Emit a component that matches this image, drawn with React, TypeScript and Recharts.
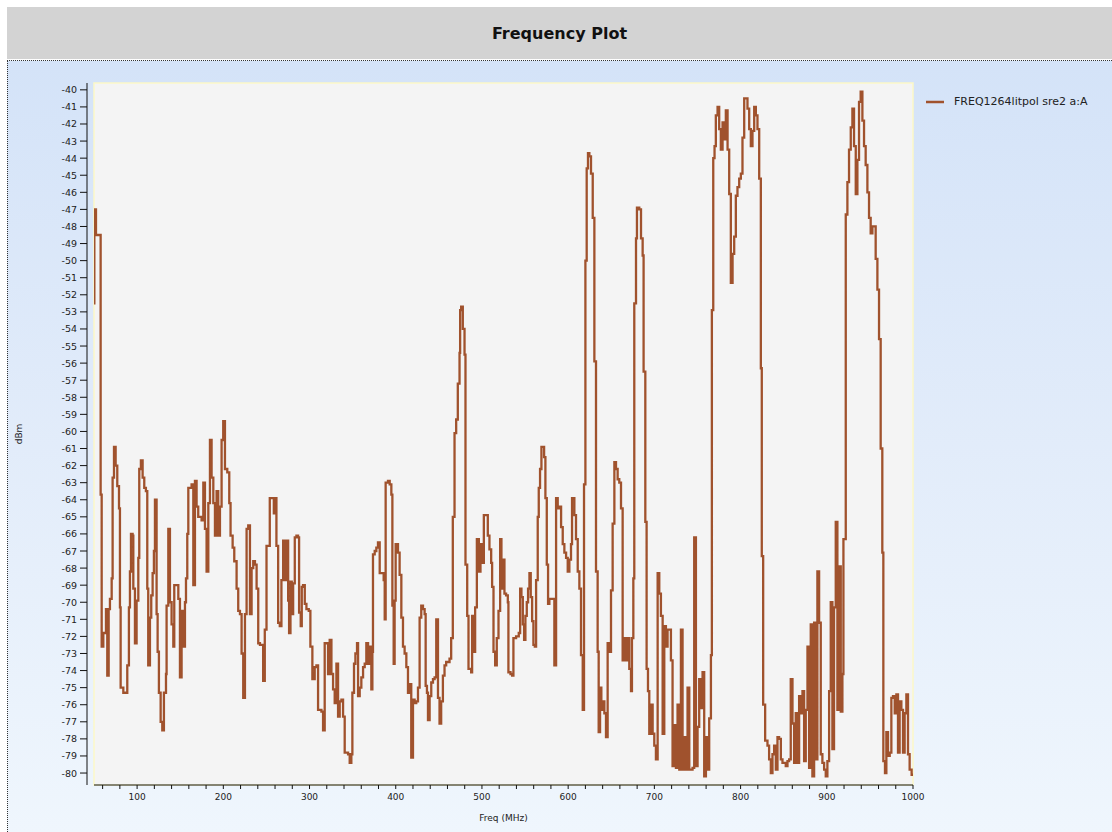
import { LineChart, Line, XAxis, YAxis, CartesianGrid, ReferenceArea, Legend } from "recharts";

// spectrum trace (MHz / dBm), drawn as a step line
const FREQ = [
  50, 50.4, 52.3, 57.7, 58.9, 60.8, 63.9, 65.4, 67, 68.5, 70.5, 71.6, 73.2, 75.1, 77, 79, 80.1, 80.9, 84, 88.6,
  90.5, 91.7, 92.9, 94.8, 95.6, 97.5, 99.4, 101.4, 102.5, 104.4, 106.4, 108.3, 110.2, 111.8, 112.9, 114.9, 116.4, 118, 119.5, 120.7,
  122.6, 123.8, 125.3, 127.3, 129.2, 131.1, 133.5, 134.2, 136.2, 138.1, 140, 142, 143.1, 145.8, 147.8, 149.7, 151.6, 153.6, 155.5, 156.7,
  158.2, 159.4, 163.2, 165.2, 167.1, 169, 170.9, 174.8, 176.8, 178.7, 180.6, 182.6, 184.5, 186.4, 188.4, 190.3, 192.2, 194.1, 196.1, 198,
  199.9, 201.9, 204.6, 206.9, 208.4, 210.8, 212.7, 215.4, 217.3, 219.3, 221.2, 223.1, 225.1, 227, 228.9, 230.9, 232.8, 234.7, 236.7, 238.6,
  240.5, 242.5, 246.2, 248.1, 250.1, 253.9, 257, 258.6, 260.1, 261.6, 263.6, 265.5, 267.4, 269.4, 271.3, 273.2, 275.2, 276.3, 277.9, 279.4,
  281, 282.9, 284.8, 286.7, 287.9, 289.8, 291, 292.5, 294.5, 296.4, 299.1, 301, 303.3, 306, 308, 309.9, 313.8, 315.7, 317.6, 319.6,
  321.5, 323.4, 325.4, 327.3, 329.2, 331.2, 333.1, 335, 337, 338.9, 340.8, 344.7, 346.6, 348.5, 349.7, 351.6, 353.2, 355.1, 356.3, 358.2,
  360.1, 362.1, 364, 365.9, 367.9, 369.8, 371.7, 372.9, 373.6, 375.6, 377.5, 379.4, 381.4, 384.5, 386, 387.2, 388.3, 391, 393, 394.9,
  396.1, 397.6, 398.7, 399.9, 402.6, 404.5, 406.5, 408.4, 410.3, 412.3, 414.2, 416.1, 418, 420, 421.9, 423.8, 425.8, 427.7, 429.6, 431.6,
  433.5, 434.7, 436.2, 437.4, 439.3, 441.2, 443.2, 445.1, 447, 449, 450.8, 452.7, 454.7, 456.6, 458.5, 462.4, 464.3, 466.2, 468.2, 470.1,
  472, 474, 474.7, 475.9, 477.8, 479.8, 480.9, 482.9, 484.4, 487.5, 488.6, 490.6, 492.1, 494.1, 496.4, 498.3, 500.2, 502.2, 504.9, 506.8,
  508.7, 510.7, 511.8, 513.4, 515.3, 517.2, 519.2, 521.1, 522.6, 524.2, 526.1, 528, 530, 530.7, 533.1, 535, 536.5, 539.6, 542.7, 544.3,
  545.8, 547.4, 548.9, 550.4, 552, 553.5, 555.1, 556.6, 558.2, 559.7, 561.3, 562.8, 564.7, 565.9, 567.4, 569, 570.5, 572.1, 573.6, 575.2,
  576.7, 578.2, 580.2, 582.1, 584, 586, 587.9, 589.8, 591.8, 593.7, 595.6, 597.6, 599.5, 601.4, 603.3, 604.5, 607.2, 609.1, 611.1, 613,
  614.9, 616.9, 618.4, 620, 621.5, 623, 624.6, 626.5, 628.5, 630.4, 632.3, 634.2, 635.4, 637, 638.5, 640, 642, 643.9, 645.8, 647.8,
  649.7, 651.6, 653.6, 655.5, 657.4, 659.3, 661.3, 663.2, 665.1, 667.1, 669, 670.9, 672.9, 674, 675.6, 676.7, 678.7, 679.8, 682.5, 684.5,
  686.4, 687.5, 689.5, 691, 692.6, 694.1, 696, 698, 699.9, 701.8, 703.8, 705.7, 707.6, 709.6, 711.5, 713.4, 715.3, 717.3, 719.2, 721.1,
  723.1, 725, 726.9, 728.9, 730.8, 732.7, 734.7, 736.6, 738.5, 740.5, 742.4, 744.3, 746.2, 748.2, 750.1, 752, 754, 755.9, 757.8, 759.8,
  761.7, 763.6, 765.6, 766.7, 768.3, 769.8, 771.3, 773.3, 775.2, 777.1, 779.1, 781, 782.9, 784.9, 786.8, 788.7, 790.7, 792.6, 794.5, 796.4,
  798.4, 800.3, 802.2, 804.2, 806.1, 808, 810, 811.9, 813.8, 815.8, 817.7, 819.6, 821.6, 823.5, 824.6, 826.2, 828.5, 831.2, 833.1, 835.1,
  837, 838.9, 840.9, 842.8, 844.7, 846.7, 848.6, 852.4, 854.4, 856.3, 858.2, 860.2, 862.1, 864, 866, 867.9, 869.8, 871.8, 873.7, 875.6,
  877.6, 879.5, 881.4, 883.3, 885.3, 887.2, 889.1, 891.1, 893, 894.9, 896.9, 898.8, 900.7, 902.7, 904.6, 906.5, 908.4, 910.4, 912.3, 914.2,
  916.2, 918.1, 919.3, 920.8, 922, 923.9, 925.8, 927.8, 929.7, 931.6, 933.6, 935.5, 937.4, 939.3, 941.3, 943.2, 945.1, 947.1, 949, 950.9,
  952.9, 954.8, 956.7, 958.7, 960.6, 962.5, 964.4, 965.6, 967.5, 969.1, 971, 973, 974.9, 976.8, 978.8, 980.7, 982.6, 984.5, 986.5, 988.4,
  990.3, 992.3, 994.2, 996.1, 998.4, 1000,
];

const DBM = [
  -52.5, -47, -48.5, -63.7, -72.6, -71.8, -70.4, -74.3, -70.4, -69.8, -68.6, -62.7, -60.9, -62, -63.2, -64.5, -70.3, -75, -75.3, -73.7,
  -70.3, -68.2, -66, -66.1, -69.2, -72.4, -69.9, -67.4, -62.2, -61.7, -62.7, -63.3, -63.5, -69.2, -73.7, -70.9, -69.6, -68.3, -67, -64,
  -70.7, -72.9, -75.3, -77, -77.5, -75.3, -74.2, -70.2, -65.7, -70, -71.3, -72.6, -69, -69, -69.8, -74.4, -70.5, -72.6, -70, -68.6,
  -66, -63.3, -63.1, -69, -62.9, -64.4, -65, -65.2, -63, -65.7, -68.2, -64.2, -60.5, -62.7, -64.2, -66.1, -63.5, -66.1, -64.4, -60.5,
  -59.4, -62.2, -62.4, -64.2, -66.1, -66.8, -67.6, -69.2, -70.5, -70.7, -73, -75.6, -70.7, -65.7, -65.5, -70.7, -68, -67.6, -67.8, -69.2,
  -72.4, -72.5, -74.6, -71.6, -66.7, -63.9, -63.9, -64.8, -63.9, -66.7, -71.2, -71.4, -68.7, -66.4, -68.7, -66.4, -69.9, -71.8, -68.8, -70.7,
  -68.9, -66.2, -66.1, -66.2, -70.6, -71.4, -69.1, -69, -70.1, -70.4, -70.5, -72.6, -74.5, -73.8, -73.7, -76.3, -76.4, -77.5, -72.4, -72.4,
  -74.2, -72.2, -74.2, -75.1, -75.9, -73.6, -76.7, -75.8, -75.7, -76.7, -78.8, -78.9, -79.4, -78.9, -75.3, -73.6, -73, -72.4, -75.5, -75,
  -74.4, -73.8, -73.6, -72.4, -73.6, -72.6, -75.1, -72.9, -67.2, -67, -66.8, -66.5, -68.3, -68.3, -68.7, -71, -63, -62.9, -63.1, -63.7,
  -70.2, -73.6, -69.9, -66.6, -67.1, -68.4, -70.9, -72.6, -73, -73.8, -75.3, -74.8, -79.1, -75.7, -75.9, -75.8, -75, -70.9, -70.2, -70.4,
  -70.7, -74.9, -75.3, -76.9, -75.5, -74.7, -74.5, -74.4, -71, -75.6, -77.1, -75.8, -74.3, -73.7, -73.5, -73.3, -72.1, -65, -60.1, -59.3,
  -57.2, -55.4, -52.9, -52.7, -54, -55.5, -67.8, -70.8, -73.9, -74.1, -70.8, -72.9, -70.3, -66.3, -68.2, -66.6, -67.7, -64.9, -64.9, -66.1,
  -66.9, -67.7, -69.1, -72.9, -73.7, -72.1, -70.5, -66.3, -69.2, -67.5, -69.5, -69.6, -70, -74.1, -74.2, -74.3, -72.1, -72, -71.8, -69.2,
  -69.7, -71.3, -72.2, -70.8, -70, -69.2, -68.3, -69.7, -71.1, -72.5, -72.6, -68.7, -65, -63.3, -62.2, -60.9, -60.9, -61.5, -63.9, -67.8,
  -70.1, -69.8, -69.8, -69.8, -73.7, -63.9, -64.5, -64.4, -65.6, -66.6, -67.1, -67.4, -68.2, -67.5, -66.6, -63.9, -64.9, -66.3, -68.2, -69.2,
  -73.1, -76.3, -63.1, -50, -44.6, -43.7, -43.9, -44.9, -47.5, -55.9, -68.2, -72.9, -77.6, -75, -76.3, -75.8, -76.5, -77.9, -72.4, -72.9,
  -69.3, -65.4, -61.8, -62.2, -62.8, -63, -64.5, -73.4, -72.1, -73.4, -72.1, -73.9, -75.2, -72.1, -68.6, -52.5, -48.7, -46.9, -47, -48.7,
  -49.7, -56.5, -65.3, -73.9, -75.2, -77.7, -76, -77.7, -78.4, -79.2, -68.3, -69.5, -70.8, -77.7, -71.4, -72.6, -71.6, -71.6, -73.4, -79.6,
  -77.2, -79.7, -76, -79.8, -71.6, -79.8, -77.9, -79.8, -75, -79.8, -79.8, -79.7, -66.2, -79.6, -77.3, -74.5, -76.2, -74.1, -80.2, -77.9,
  -79.8, -76.8, -73.1, -52.9, -44, -43.3, -41.5, -41, -42.3, -43.5, -41.9, -42.9, -41.2, -43.5, -46.1, -51.3, -49.6, -48.6, -46.2, -45.7,
  -45.2, -44.9, -42.8, -40.5, -40.5, -41.1, -42.3, -43.3, -42.4, -41, -41.5, -42.3, -45.2, -56.3, -67.3, -76, -78.1, -78.4, -79.2, -80,
  -78.9, -78.4, -79.8, -77.9, -78, -79.2, -79.4, -79.6, -79.3, -79.2, -74.5, -77.1, -79.4, -76.5, -79.4, -75.5, -76.5, -75.2, -79.3, -76.3,
  -72.6, -79.7, -71.3, -80.2, -71.2, -79.2, -68.2, -71.2, -78.9, -79.4, -79.8, -80.2, -79.3, -75.2, -70, -78.6, -70.3, -65.3, -76.3, -67.9,
  -76.4, -74.2, -66.3, -66.3, -47.3, -45.4, -43.5, -42.2, -41.1, -43.3, -46.1, -44.1, -40.7, -40.1, -41.8, -43.3, -44.4, -46, -47.5, -48.4,
  -48, -48, -49.9, -51.7, -54.6, -61, -67.1, -79.3, -80, -77.6, -79, -78.8, -75.6, -75.5, -76.5, -75.4, -78.8, -75.8, -76.3, -78.8,
  -76.5, -75.4, -78.9, -79.8, -80.1, -80.1,
];

const SERIES_NAME = "FREQ1264litpol sre2 a:A";
const X_LABELS = [100, 200, 300, 400, 500, 600, 700, 800, 900, 1000];
const X_TICKS = [
  60, 80, 100, 120, 140, 160, 180, 200, 220, 240, 260, 280, 300, 320, 340, 360, 380, 400, 420, 440, 460, 480, 500, 520,
  540, 560, 580, 600, 620, 640, 660, 680, 700, 720, 740, 760, 780, 800, 820, 840, 860, 880, 900, 920, 940, 960, 980, 1000,
];
const Y_TICKS = [
  -80, -79, -78, -77, -76, -75, -74, -73, -72, -71, -70, -69, -68, -67, -66, -65, -64, -63, -62, -61, -60,
  -59, -58, -57, -56, -55, -54, -53, -52, -51, -50, -49, -48, -47, -46, -45, -44, -43, -42, -41, -40,
];

const LINE_COLOR = "#a0522d";
const FONT = "Tahoma, 'DejaVu Sans', sans-serif";
const Y_SHIFT = 7; // y axis sits a few px left of the plot box

const data = FREQ.map((f, i) => ({ f, v: DBM[i] }));

function XTick({ x, y, payload }: any) {
  if (!X_LABELS.includes(payload.value)) return null;
  return (
    <text x={x} y={y} dy={7} textAnchor="middle" fontSize={9} fontFamily={FONT} fill="#222">
      {payload.value}
    </text>
  );
}

function YTick({ x, y, payload }: any) {
  return (
    <text x={x - Y_SHIFT} y={y} dy={3.5} textAnchor="end" fontSize={9.5} fontFamily={FONT} fill="#222">
      {payload.value}
    </text>
  );
}

function YLabel({ viewBox }: any) {
  const cx = viewBox.x + 5;
  const cy = viewBox.y + viewBox.height / 2;
  return (
    <text x={cx} y={cy} transform={`rotate(-90, ${cx}, ${cy})`} textAnchor="middle" dominantBaseline="central"
      fontSize={9} fontFamily={FONT} fill="#222">
      dBm
    </text>
  );
}

function LegendBox() {
  return (
    <div style={{ display: "flex", alignItems: "center", fontFamily: FONT, fontSize: 11, color: "#222", whiteSpace: "nowrap" }}>
      <svg width={20} height={10} style={{ marginRight: 9 }}>
        <line x1={1} y1={5} x2={19} y2={5} stroke={LINE_COLOR} strokeWidth={2.5} />
      </svg>
      {SERIES_NAME}
    </div>
  );
}

export default function App() {
  return (
    <div style={{ position: "absolute", left: 0, top: 0, width: 1112, height: 832, overflow: "hidden", background: "#fff" }}>
      <div
        style={{
          position: "absolute", left: 7, top: 7, width: 1105, height: 52, background: "#d3d3d3",
          display: "flex", alignItems: "center", justifyContent: "center",
          fontFamily: FONT, fontWeight: "bold", fontSize: 16, color: "#111",
        }}
      >
        Frequency Plot
      </div>
      <div
        style={{
          position: "absolute", left: 7, top: 60, width: 1105, height: 772, boxSizing: "border-box",
          borderTop: "1px dotted #333", borderLeft: "1px dotted #333",
          background: "linear-gradient(to bottom, #d4e3f8 0%, #e2ecfa 50%, #eff6fd 100%)",
        }}
      />
      <div style={{ position: "absolute", left: 0, top: 0 }}>
        <LineChart width={1112} height={832} data={data} margin={{ top: 83, right: 199, left: 14, bottom: 11 }}>
          <CartesianGrid horizontal={false} vertical={false} fill="#f4f4f4" />
          <ReferenceArea x1={50} x2={1000} y1={-80.7} y2={-39.6} fill="none" stroke="#fbf8c8" strokeWidth={1.5} ifOverflow="visible" />
          <XAxis
            dataKey="f"
            type="number"
            domain={[50, 1000]}
            ticks={X_TICKS}
            interval={0}
            allowDataOverflow
            height={36}
            tickSize={4}
            tickMargin={4}
            tick={<XTick />}
            axisLine={{ stroke: "#111" }}
            tickLine={{ stroke: "#111" }}
            label={{ value: "Freq (MHz)", position: "insideBottom", offset: 0, fontSize: 9, fontFamily: FONT, fill: "#222" }}
          />
          <YAxis
            type="number"
            domain={[-80.7, -39.6]}
            ticks={Y_TICKS}
            interval={0}
            allowDataOverflow
            width={80}
            tickSize={7}
            tickMargin={3}
            tick={<YTick />}
            axisLine={{ stroke: "#111", transform: `translate(-${Y_SHIFT},0)` }}
            tickLine={{ stroke: "#111", transform: `translate(-${Y_SHIFT},0)` }}
            label={<YLabel />}
          />
          <Legend
            layout="horizontal"
            verticalAlign="middle"
            align="center"
            wrapperStyle={{ left: 925, top: 95, width: "auto" }}
            content={<LegendBox />}
          />
          <Line
            type="stepAfter"
            dataKey="v"
            name={SERIES_NAME}
            stroke={LINE_COLOR}
            strokeWidth={2.3}
            dot={false}
            activeDot={false}
            isAnimationActive={false}
          />
        </LineChart>
      </div>
    </div>
  );
}
